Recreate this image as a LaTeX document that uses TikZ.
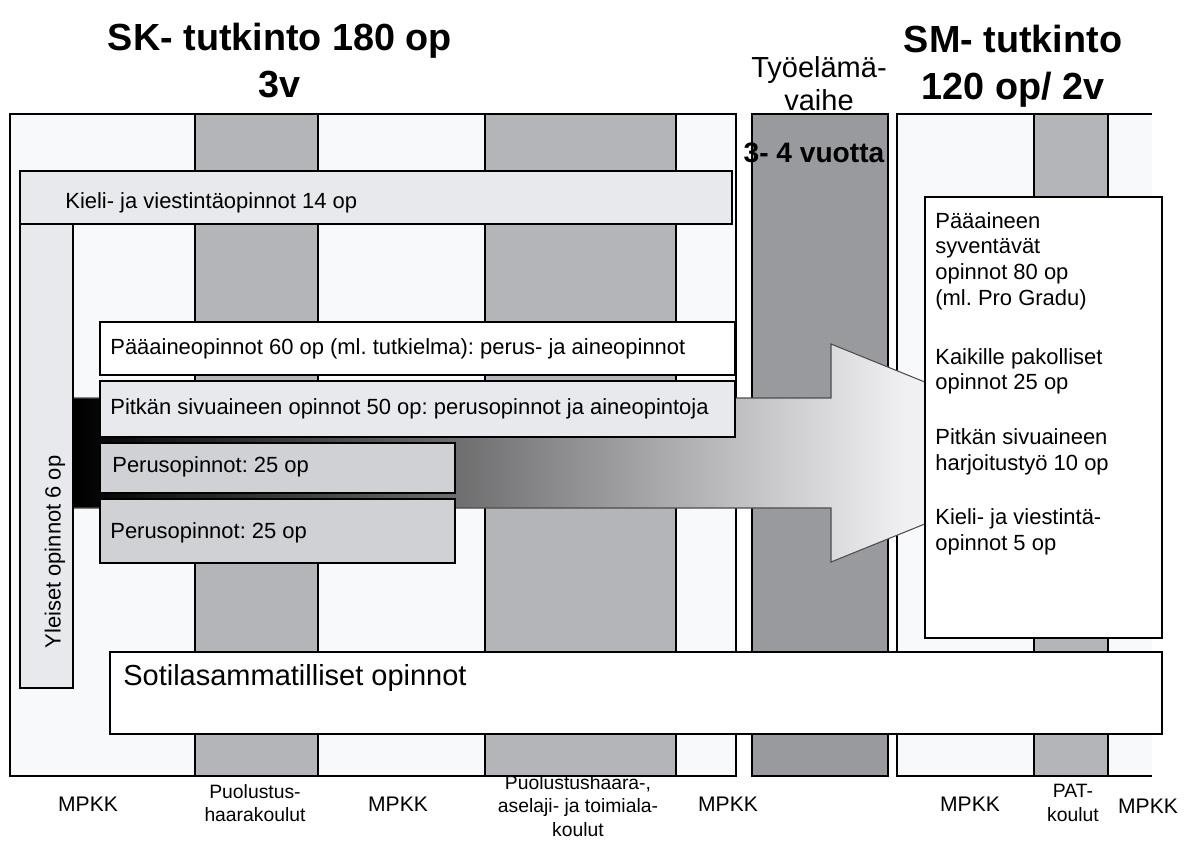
\documentclass[tikz,border=0pt]{standalone}
\usepackage{fontspec}
\setmainfont{Liberation Sans}
\usepackage{tikz}
\usetikzlibrary{positioning,calc}
\frenchspacing

\definecolor{framefill}{RGB}{248,249,251}
\definecolor{colgray}{RGB}{180,181,185}
\definecolor{workgray}{RGB}{152,154,158}
\definecolor{lightbox}{RGB}{232,233,237}
\definecolor{perusgray}{RGB}{208,209,213}
\definecolor{fadeend}{RGB}{240,240,243}
\pgfdeclarehorizontalshading{arrowfade}{100bp}{color(0bp)=(black); color(27.6bp)=(black); color(66bp)=(fadeend); color(100bp)=(fadeend)}

\begin{document}
\begin{tikzpicture}[
    x=0.02cm, y=-0.02cm,
    line/.style={draw=black, line width=1.1pt},
    colbox/.style={line, fill=colgray},
    studybox/.style={line, fill=white},
    boxtext/.style={anchor=west, inner sep=0pt, font=\fontsize{12.5}{14.4}\selectfont},
    headtext/.style={anchor=north, inner sep=0pt, align=center, font=\fontsize{21.5}{26.5}\selectfont\bfseries},
    schooltext/.style={inner sep=0pt, align=center, font=\fontsize{11}{13.5}\selectfont},
    mpkk/.style={inner sep=0pt, font=\fontsize{12}{14}\selectfont},
]
\useasboundingbox (0,0) rectangle (1186,848);

% SK frame with its school columns
\draw[line, fill=framefill] (10,114) rectangle (736,776);
\draw[colbox] (195,114) rectangle (318,776);
\draw[colbox] (485,114) rectangle (676,776);

% work phase
\draw[line, fill=workgray] (752,114) rectangle (888,776);

% SM frame (open on the right)
\fill[framefill] (897,114) rectangle (1152,776);
\draw[line] (1152,114) -- (897,114) -- (897,776) -- (1152,776);
\draw[colbox] (1034,114) rectangle (1108,776);

% big arrow
\coordinate (a1) at (21,398);
\coordinate (a2) at (831,398);
\coordinate (a3) at (831,344);
\coordinate (tip) at (1100,453);
\coordinate (a5) at (831,562);
\coordinate (a6) at (831,508);
\coordinate (a7) at (21,508);
\draw[draw=black!70, line width=0.6pt, shading=arrowfade, shading angle=0]
    (a1) -- (a2) -- (a3) -- (tip) -- (a5) -- (a6) -- (a7) -- cycle;

% left study blocks
\draw[line, fill=lightbox] (20,171) rectangle (73,688);
\draw[line, fill=lightbox] (20,171) rectangle (732,224);
\draw[studybox] (100,322) rectangle (735,375);
\draw[line, fill=lightbox] (100,381) rectangle (735,437);
\draw[line, fill=perusgray] (100,443) rectangle (455,493);
\draw[line, fill=perusgray] (100,499) rectangle (455,563);

% SM contents
\draw[studybox] (925,197) rectangle (1162,638);
\draw[studybox] (110,652) rectangle (1162,734);

% texts in the blocks
\node[boxtext] (kieli) at (65,203) {Kieli- ja viestintäopinnot 14 op};
\node[boxtext, anchor=center, rotate=90] (yleiset) at (55,552) {Yleiset opinnot 6 op};
\node[boxtext] (paaaine) at (110,349) {Pääaineopinnot 60 op (ml. tutkielma): perus- ja aineopinnot};
\node[boxtext] (pitkan) at (110,409) {Pitkän sivuaineen opinnot 50 op: perusopinnot ja aineopintoja};
\node[boxtext] (perus1) at (112,467) {Perusopinnot: 25 op};
\node[boxtext] (perus2) at (110,533) {Perusopinnot: 25 op};
\node[boxtext, anchor=west, font=\fontsize{16.5}{19}\selectfont] (sotilas) at (123,678) {Sotilasammatilliset opinnot};
\node[boxtext, anchor=north west, align=left, font=\fontsize{12.5}{14.6}\selectfont] (smlist) at (935,212) {Pääaineen\\syventävät\\opinnot 80 op\\(ml. Pro Gradu)\\[19pt]Kaikille pakolliset\\opinnot 25 op\\[16.5pt]Pitkän sivuaineen\\harjoitustyö 10 op\\[16.5pt]Kieli- ja viestintä-\\opinnot 5 op};

% headings
\node[headtext] (sktitle) at (280,23) {SK- tutkinto 180 op\\3v};
\node[headtext] (smtitle) at (1013,25) {SM- tutkinto\\120 op/ 2v};
\node[headtext, font=\fontsize{16.5}{19}\selectfont] (tyoelama) at (819,56) {Työelämä-\\vaihe};
\node[inner sep=0pt, font=\fontsize{16}{19}\selectfont\bfseries] (vuotta) at (814,153) {3- 4 vuotta};

% schools below the columns
\node[mpkk] (mpkk1) at (88,804) {MPKK};
\node[schooltext] (puolustus) at (255,803) {Puolustus-\\haarakoulut};
\node[mpkk] (mpkk2) at (398,804) {MPKK};
\node[schooltext] (aselaji) at (578,806) {Puolustushaara-,\\aselaji- ja toimiala-\\koulut};
\node[mpkk] (mpkk3) at (728,804) {MPKK};
\node[mpkk] (mpkk4) at (970,804) {MPKK};
\node[schooltext] (pat) at (1073,803) {PAT-\\koulut};
\node[mpkk] (mpkk5) at (1148,806) {MPKK};

\end{tikzpicture}
\end{document}
